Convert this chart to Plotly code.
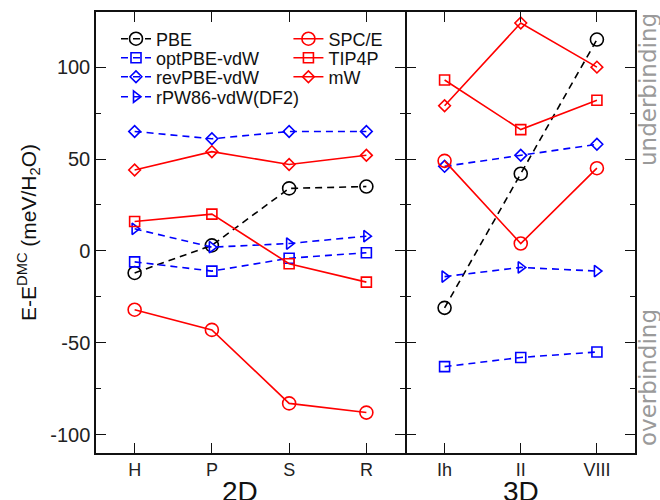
import plotly.graph_objects as go

# Structures
cats_2d = ["H", "P", "S", "R"]
cats_3d = ["Ih", "II", "VIII"]

# Energy differences relative to DMC (meV/H2O)
pbe_2d = [-12, 3, 34, 35]
pbe_3d = [-31, 42, 115]
optpbe_2d = [-6, -11, -4, -1]
optpbe_3d = [-63, -58, -55]
revpbe_2d = [65, 61, 65, 65]
revpbe_3d = [46, 52, 58]
rpw86_2d = [12, 2, 4, 8]
rpw86_3d = [-14, -9, -11]
spce_2d = [-32, -43, -83, -88]
spce_3d = [49, 4, 45]
tip4p_2d = [16, 20, -7, -17]
tip4p_3d = [93, 66, 82]
mw_2d = [44, 54, 47, 52]
mw_3d = [79, 124, 100]

BLUE, RED = "#0000ff", "#ff0000"
series = [
    ("PBE", pbe_2d, pbe_3d, "black", True, "circle-open", 13),
    ("optPBE-vdW", optpbe_2d, optpbe_3d, BLUE, True, "square-open", 10),
    ("revPBE-vdW", revpbe_2d, revpbe_3d, BLUE, True, "diamond-open", 9),
    ("rPW86-vdW(DF2)", rpw86_2d, rpw86_3d, BLUE, True, "triangle-right-open", 10),
    ("SPC/E", spce_2d, spce_3d, RED, False, "circle-open", 13),
    ("TIP4P", tip4p_2d, tip4p_3d, RED, False, "square-open", 10),
    ("mW", mw_2d, mw_3d, RED, False, "diamond-open", 9),
]

# legend entries: two columns, one small legend per row
legend_slots = [(0.0371, 39), (0.0371, 58), (0.0371, 77), (0.0371, 97),
                (0.357, 39), (0.357, 58), (0.357, 77)]

W, H = 660, 500
ML, MR, MT, MB = 96, 25, 12, 47
PW, PH = W - ML - MR, H - MT - MB
LW = 1.5
split = 309 / PW

fig = go.Figure()
for i, (name, v2, v3, color, dashed, symbol, msize) in enumerate(series):
    leg = "legend" if i == 0 else f"legend{i + 1}"
    line = dict(color=color, width=1.6, dash="7px,5px" if dashed else "solid")
    marker = dict(symbol=symbol, size=msize, color=color, line=dict(color=color, width=1.6))
    fig.add_trace(go.Scatter(x=list(range(len(cats_2d))), y=v2, mode="lines+markers",
                             name=name, line=line, marker=marker, legend=leg,
                             xaxis="x", yaxis="y", showlegend=True))
    fig.add_trace(go.Scatter(x=list(range(len(cats_3d))), y=v3, mode="lines+markers",
                             name=name, line=line, marker=marker, legend=leg,
                             xaxis="x2", yaxis="y2", showlegend=False))

axis_common = dict(showline=True, linecolor="#111", linewidth=LW, mirror="ticks",
                   ticks="inside", tickcolor="#111", tickwidth=1.2, ticklen=10,
                   showgrid=False, zeroline=False, automargin=False,
                   tickfont=dict(size=20, color="#222"))
xaxis_common = dict(axis_common, tickfont=dict(size=18, color="#222"))
yaxis_common = dict(axis_common, range=[-110, 130], tickvals=[-100, -50, 0, 50, 100],
                    ticktext=["-100", "-50", "0", "50", "100"],
                    minor=dict(tickvals=[-75, -25, 25, 75], ticks="inside", ticklen=5,
                               tickcolor="#111", tickwidth=1.2))

layout = dict(
    width=W, height=H,
    margin=dict(l=ML, r=MR, t=MT, b=MB),
    paper_bgcolor="white", plot_bgcolor="white",
    font=dict(family="Liberation Sans"),
    xaxis=dict(xaxis_common, domain=[0, split], range=[-0.5, 3.5],
               tickvals=list(range(4)), ticktext=cats_2d),
    xaxis2=dict(xaxis_common, domain=[split + LW / PW, 1], range=[-0.5, 2.5],
                tickvals=list(range(3)), ticktext=cats_3d),
    yaxis=dict(yaxis_common, anchor="x",
               title=dict(text="E-E<sup>DMC</sup> (meV/H<sub>2</sub>O)",
                          font=dict(size=21, color="#111"), standoff=8)),
    yaxis2=dict(yaxis_common, anchor="x2", matches="y", showticklabels=False),
)

for i, (lx, ly) in enumerate(legend_slots):
    key = "legend" if i == 0 else f"legend{i + 1}"
    layout[key] = dict(x=lx, y=1 - (ly - MT) / PH, xanchor="left", yanchor="middle",
                       bgcolor="rgba(0,0,0,0)", borderwidth=0, itemwidth=30,
                       font=dict(size=18, color="#111"))

fig.update_layout(**layout)

# panel titles below the category labels (partly running off the bottom edge)
for txt, px in [("2D", 240), ("3D", 521)]:
    fig.add_annotation(text=txt, xref="paper", yref="paper",
                       x=(px - ML) / PW, y=-(474 - MT - PH) / PH,
                       showarrow=False, xanchor="center", yanchor="top",
                       font=dict(size=28, color="#111"))

for txt, ypos in [("underbinding", 90), ("overbinding", 378)]:
    fig.add_annotation(text=txt, xref="paper", yref="paper",
                       x=(648 - ML) / PW, y=1 - (ypos - MT) / PH,
                       textangle=-90, showarrow=False, xanchor="center", yanchor="middle",
                       font=dict(family="DejaVu Sans", size=23, color="#9a9a9a"))

fig.write_html("out.html")
